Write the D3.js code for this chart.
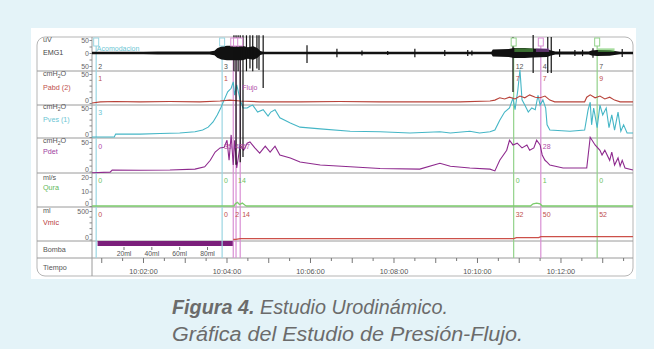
<!DOCTYPE html>
<html><head><meta charset="utf-8">
<script src="https://cdn.jsdelivr.net/npm/d3@7"></script>
<style>
html,body{margin:0;padding:0;background:#e4f3f8;}
svg{display:block;font-family:"Liberation Sans",Arial,Helvetica,sans-serif;}
</style></head><body>
<svg id="c" width="654" height="349"></svg>
<script>
// ---------- DATA (time in seconds after 10:00:00) ----------
const timeDomain = [46, 823.5];
const timeTicks = d3.range(60, 823, 30);
const timeLabelTicks = [120, 240, 360, 480, 600, 720];

const pabd = [[46,0],[58,2],[79,2.5],[115,2],[158,2.5],[201,2],[230,3.5],[244,5],[259,3.5],[287,2],[345,2],[402,2.5],[460,2],[517,2],[575,2],[618,3.5],[625,5],[632,9],[639,7],[646,10],[654,7],[661,12],[668,9],[675,14],[683,10],[690,9],[697,12],[704,5],[711,2],[754,2],[757,10],[762,14],[769,9],[776,12],[783,7],[790,10],[797,5],[805,2],[823.5,2]];

const pves = [[46,0],[78,0],[80,5],[115,5],[144,6],[172,7],[194,9],[205,12],[213,17],[220,26],[226,38],[231,50],[236,64],[241,78],[246,84],[249,95],[251,72],[254,90],[259,64],[263,50],[269,50],[273,53],[277,55],[284,43],[292,47],[299,36],[303,43],[309,47],[316,33],[331,24],[345,17],[374,14],[417,10],[460,9],[503,7],[546,9],[561,7],[589,10],[603,7],[618,9],[625,12],[632,29],[639,43],[646,50],[651,67],[654,47],[658,81],[661,116],[664,64],[668,55],[673,43],[678,50],[683,47],[687,72],[690,55],[694,64],[698,50],[700,21],[704,12],[733,10],[754,12],[759,47],[762,60],[764,21],[767,50],[772,16],[776,55],[780,38],[785,50],[789,16],[793,38],[797,12],[802,43],[806,10],[810,21],[815,7],[823.5,7]];

const pdet = [[46,-2],[72,-1],[75,2.5],[115,2],[158,2.5],[194,4],[208,8],[216,19],[223,33],[230,40],[236,41],[240,53],[243,19],[246,62],[249,11],[251,53],[254,6],[259,45],[264,36],[269,48],[273,50],[280,40],[287,31],[295,43],[302,33],[309,43],[316,28],[331,23],[345,16],[374,11],[417,8],[460,5],[517,4],[546,14],[561,9],[589,6],[618,4],[625,1],[632,19],[642,36],[646,53],[651,45],[657,48],[664,40],[671,45],[675,36],[681,40],[685,53],[690,45],[693,28],[697,19],[700,16],[704,11],[723,6],[757,6],[762,58],[769,45],[776,36],[779,28],[783,36],[790,19],[793,33],[797,11],[802,23],[805,9],[808,19],[812,6],[823.5,2.5]];

const qura = [[46,0],[250,0],[252,1.5],[255,2.5],[258,1],[262,2],[266,0.5],[268,0],[676,0],[680,1.5],[685,2],[690,1.5],[693,0],[823.5,0]];

const vmic = [[249,0],[253,2],[259,14],[652,14],[656,32],[688,32],[691,50],[771,50],[772,52],[823.5,52]];

// EMG envelope [t, half amplitude uV] and individual spikes [t, up uV, down uV]
const emgEnvelope = [[46,5],[120,5],[140,6],[215,6],[222,9],[226,18],[232,25],[240,28],[262,28],[270,22],[278,26],[284,18],[288,8],[292,5],[620,5],[622,13],[645,15],[652,19],[668,19],[680,17],[700,15],[706,10],[712,6],[760,6],[764,10],[772,12],[790,11],[797,8],[805,5],[823.5,5]];
const emgSpikes = [[250,68,70],[253,68,430],[256,68,70],[259,68,420],[263,68,400],[268,68,70],[273,68,60],[277,68,70],[283,68,60],[286,68,65],[292,68,135],[355,30,38],[398,16,16],[434,10,10],[471,8,8],[510,16,16],[553,12,12],[586,12,12],[592,10,10],[651,62,150],[680,69,77],[701,62,77],[706,62,77],[718,15,15],[740,12,12],[751,12,12],[766,18,18],[808,15,15]];
// highlighted EMG segments [t start, t end, event type]
const emgHighlights = [[653,680,"flujo"],[684,703,"vaciado"],[773,797,"flujo"]];

const pumpInterval = [54, 249];
const pumpVolumes = [[92,"20ml"],[132,"40ml"],[172,"60ml"],[212,"80ml"]];

// Event markers
const markerTimes = [52, 233, 249, 253, 259, 652, 691, 772];
const markerTypes = ["llenado","llenado","vaciado","vaciado","vaciado","flujo","vaciado","flujo"];
const markerEMG  = ["2","3","","","","12","4","7"];
const markerPabd = ["1","1","","","","7","7","9"];
const markerPves = ["3","","","","","","",""];
const markerPdet = ["0","35","48","","67","","28",""];
const markerQura = ["0","0","","14","","0","1","0"];
const markerVmic = ["0","0","2","","14","32","50","52"];

const annotations = [[53,"Acomodacion","llenado"],[262,"Flujo","vaciado"]];

// ---------- LAYOUT ----------
const svg = d3.select("#c");
const F = {x0:37, x1:633, y0:37, y1:276};
const AX = 92;
const typeColor = {llenado:"#9ad6e2", vaciado:"#d98fd4", flujo:"#92d28a"};
const tintColor = {llenado:"#6cc5d3", vaciado:"#9a4fb5", flujo:"#5fbf4f"};

svg.append("rect").attr("x",31).attr("y",28).attr("width",605).attr("height",251).attr("fill","#fff");
svg.append("rect").attr("x",F.x0).attr("y",F.y0).attr("width",F.x1-F.x0).attr("height",F.y1-F.y0)
  .attr("rx",8).attr("fill","#fff").attr("stroke","#b5b5b5").attr("stroke-width",1);

const x = d3.scaleLinear().domain(timeDomain).range([AX, F.x1]);

const rows = [
  {key:"emg", top:37, bottom:71, unit:"uV", name:"EMG1", color:"#444", scale:d3.scaleLinear([-50,50],[66,40]), ticks:[-50,-25,0,25,50], labels:[-50,0,50], unitY:42, nameY:55, markY:66.5, marks:markerEMG, markColor:"#555"},
  {key:"pabd", top:71, bottom:105, unit:"cmH2O", name:"Pabd (2)", color:"#c0504d", scale:d3.scaleLinear([0,50],[103,74]), ticks:[0,10,20,30,40,50], labels:[0,50], unitY:76, nameY:90, markY:79, marks:markerPabd, markColor:"#c0504d"},
  {key:"pves", top:105, bottom:138, unit:"cmH2O", name:"Pves (1)", color:"#6cc5d3", scale:d3.scaleLinear([0,50],[137,108]), ticks:[0,10,20,30,40,50], labels:[0,50], unitY:109, nameY:122, markY:112.5, marks:markerPves, markColor:"#6cc5d3"},
  {key:"pdet", top:138, bottom:173, unit:"cmH2O", name:"Pdet", color:"#a040a0", scale:d3.scaleLinear([0,50],[171.5,142]), ticks:[0,10,20,30,40,50], labels:[0,50], unitY:143, nameY:154, markY:147, marks:markerPdet, markColor:"#b04aa8"},
  {key:"qura", top:173, bottom:207, unit:"ml/s", name:"Qura", color:"#62b85a", scale:d3.scaleLinear([0,20],[206,177]), ticks:[0,5,10,15,20], labels:[0,10,20], unitY:180, nameY:190, markY:181, marks:markerQura, markColor:"#6cbf60"},
  {key:"vmic", top:207, bottom:241, unit:"ml", name:"Vmic", color:"#b83a3a", scale:d3.scaleLinear([0,500],[239.5,211]), ticks:[0,100,200,300,400,500], labels:[0,500], unitY:213, nameY:225, markY:215, marks:markerVmic, markColor:"#c0504d"}
];
const R = Object.fromEntries(rows.map(r=>[r.key,r]));

// dividers
[71,105,138,173,207,241,258].forEach(yv=>{
  svg.append("line").attr("x1",F.x0).attr("x2",F.x1).attr("y1",yv).attr("y2",yv)
    .attr("stroke","#9a9a9a").attr("stroke-width",1);
});
svg.append("line").attr("x1",AX).attr("x2",AX).attr("y1",F.y0).attr("y2",F.y1).attr("stroke","#9a9a9a");

// row labels
const lab = svg.append("g").attr("font-size",7.2);
rows.forEach(r=>{
  const u = lab.append("text").attr("x",43).attr("y",r.unitY).attr("fill","#555");
  if (r.unit==="cmH2O"){ u.text("cmH"); u.append("tspan").attr("font-size",5).attr("dy",1.5).text("2"); u.append("tspan").attr("dy",-1.5).text("O"); }
  else u.text(r.unit);
  lab.append("text").attr("x",43).attr("y",r.nameY).attr("fill",r.color).text(r.name);
  const ax = d3.axisLeft(r.scale).tickValues(r.ticks).tickSize(2.5)
     .tickFormat(v=> r.labels.includes(v) ? String(Math.abs(v)) : "");
  const g = svg.append("g").attr("transform",`translate(${AX},0)`).call(ax);
  g.select(".domain").remove();
  g.selectAll("line").attr("stroke","#888");
  g.selectAll("text").attr("font-size",7).attr("fill","#666").attr("font-family","Liberation Sans, Arial")
    .attr("x",-3).attr("dy", d=> (d===0 && r.key!=="emg") ? "-0.05em" : "0.32em");
});
lab.append("text").attr("x",43).attr("y",252).attr("fill","#555").text("Bomba");
lab.append("text").attr("x",43).attr("y",270).attr("fill","#555").text("Tiempo");

// time axis
const tg = svg.append("g");
timeTicks.forEach(t=>{
  const major = t%60===0;
  tg.append("line").attr("x1",x(t)).attr("x2",x(t)).attr("y1",258).attr("y2",major?263:261).attr("stroke","#777");
});
timeLabelTicks.forEach(t=>{
  const m = Math.floor(t/60);
  tg.append("text").attr("x",x(t)).attr("y",273.5).attr("text-anchor","middle").attr("font-size",7.3).attr("fill","#555")
    .text(`10:${String(m).padStart(2,"0")}:00`);
});

// pump
svg.append("rect").attr("x",x(pumpInterval[0])).attr("y",241).attr("width",x(pumpInterval[1])-x(pumpInterval[0])).attr("height",5).attr("fill","#7b1f7b");
pumpVolumes.forEach(([t,l])=>{
  svg.append("line").attr("x1",x(t)).attr("x2",x(t)).attr("y1",247).attr("y2",250).attr("stroke","#777");
  svg.append("text").attr("x",x(t)).attr("y",255.5).attr("text-anchor","middle").attr("font-size",6.8).attr("fill","#555").text(l);
});

// markers
markerTimes.forEach((t,i)=>{
  const c = typeColor[markerTypes[i]];
  svg.append("line").attr("x1",x(t)).attr("x2",x(t)).attr("y1",38).attr("y2",258).attr("stroke",c).attr("stroke-width",1.2);
});

// traces
const line = (sc)=> d3.line().x(d=>x(d[0])).y(d=>sc(d[1]));
svg.append("path").datum(vmic).attr("d",line(R.vmic.scale)).attr("fill","none").attr("stroke","#cc5049").attr("stroke-width",1.3);
svg.append("path").datum(qura).attr("d",line(R.qura.scale)).attr("fill","none").attr("stroke","#7ccc6c").attr("stroke-width",1.3);
svg.append("path").datum(pdet).attr("d",line(R.pdet.scale)).attr("fill","none").attr("stroke","#8e2a8e").attr("stroke-width",1.1);
svg.append("path").datum(pves).attr("d",line(R.pves.scale)).attr("fill","none").attr("stroke","#45b6c6").attr("stroke-width",1.1);
svg.append("path").datum(pabd).attr("d",line(R.pabd.scale)).attr("fill","none").attr("stroke","#b8433a").attr("stroke-width",1.1);

// EMG
const ye = R.emg.scale;
svg.append("path").datum(emgEnvelope)
  .attr("d", d3.area().x(d=>x(d[0])).y0(d=>ye(-d[1])).y1(d=>ye(d[1])))
  .attr("fill","#111");
emgSpikes.forEach(([t,u,dn])=>{
  svg.append("line").attr("x1",x(t)).attr("x2",x(t)).attr("y1",ye(u)).attr("y2",ye(-dn)).attr("stroke","#111").attr("stroke-width",1.2);
});
emgHighlights.forEach(([a,b,tp])=>{
  svg.append("rect").attr("x",x(a)).attr("y",ye(18)).attr("width",x(b)-x(a)).attr("height",ye(4)-ye(18))
    .attr("fill",tintColor[tp]).attr("opacity",0.55);
});

// marker boxes and value labels
markerTimes.forEach((t,i)=>{
  const c = typeColor[markerTypes[i]];
  svg.append("rect").attr("x",x(t)-2.5).attr("y",38).attr("width",5).attr("height",8).attr("fill","#fff").attr("stroke",c).attr("stroke-width",1);
  rows.forEach(r=>{
    const v = r.marks[i];
    if (v) svg.append("text").attr("x",x(t)+2).attr("y",r.markY).attr("dy","0.35em").attr("font-size",7).attr("fill",r.markColor).text(v);
  });
});
annotations.forEach(([t,txt,tp],i)=>{
  svg.append("text").attr("x",x(t)).attr("y",i===0?51:90).attr("font-size",7).attr("fill",tp==="llenado"?"#6cc5d3":"#b04aa8").text(txt);
});

// caption
const cap = svg.append("g").attr("fill","#6b6b6b").attr("font-style","italic").attr("font-size",20.5);
const l1 = cap.append("text").attr("x",172).attr("y",314).attr("textLength",276).attr("lengthAdjust","spacingAndGlyphs");
l1.append("tspan").attr("font-weight","bold").text("Figura 4.");
l1.append("tspan").text(" Estudio Urodinámico.");
cap.append("text").attr("x",172).attr("y",341).attr("textLength",351).attr("lengthAdjust","spacingAndGlyphs").text("Gráfica del Estudio de Presión-Flujo.");
</script>
</body></html>
